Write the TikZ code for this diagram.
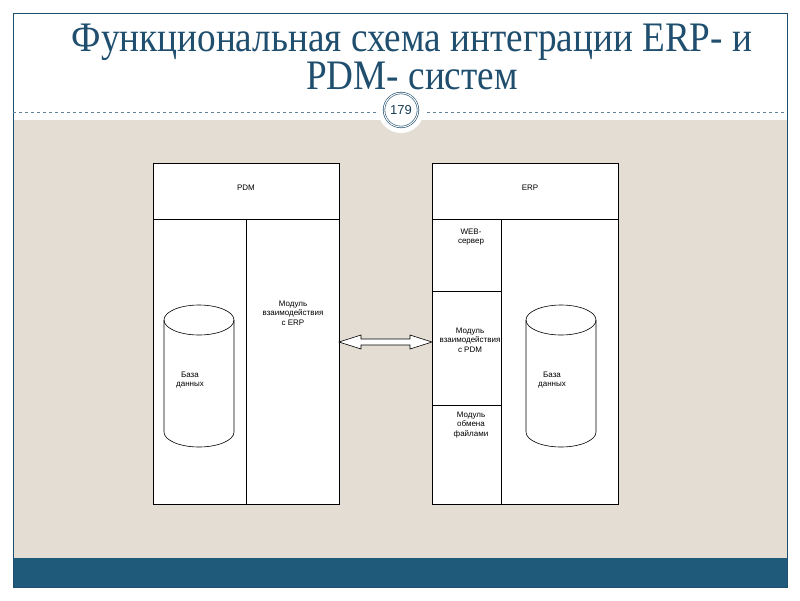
\documentclass[tikz,border=0pt]{standalone}
\usepackage{fontspec}
\setmainfont{Liberation Serif}
\newfontfamily\arialf{Liberation Sans}
\usetikzlibrary{calc}
\definecolor{navy}{HTML}{1F4E6E}
\definecolor{bar}{HTML}{1F5A7A}
\definecolor{beige}{HTML}{E3DDD3}
\tikzset{box/.style={draw=black,line width=0.6pt,fill=white},
 lbl/.style={font=\arialf\fontsize{8}{9.5}\selectfont,align=center,inner sep=0pt},
 dbline/.style={draw=black,fill=white,line width=0.6pt}}
\newcommand{\mydb}[1]{%
 \path[dbline] ($(#1)+(-35,-56)$) -- ($(#1)+(-35,56)$) arc[start angle=180,end angle=360,x radius=35,y radius=-15] -- ($(#1)+(35,-56)$) arc[start angle=0,end angle=180,x radius=35,y radius=-15] -- cycle;
 \draw[line width=0.6pt] ($(#1)+(-35,-56)$) arc[start angle=180,end angle=360,x radius=35,y radius=-15];}
\begin{document}
\begin{tikzpicture}[x=1pt,y=-1pt]
\useasboundingbox (0,0) rectangle (800,600);
\fill[white] (0,0) rectangle (800,600);
\fill[beige] (13,120) rectangle (787,558);
\fill[bar] (13,558) rectangle (787,587);
\draw[navy,line width=0.8pt] (13,13) rectangle (787,587);
\draw[navy!70,dashed,line width=0.5pt] (13,112) -- (787,112);
\node[circle,fill=white,minimum size=46pt] (cbg) at (401,110) {};
\node[circle,draw=navy,double=white,double distance=1pt,line width=0.6pt,minimum size=34pt,inner sep=0pt,font=\arialf\fontsize{13}{13}\selectfont,text=navy!80!black] (pg) at (401,110) {179};
\node[text=navy,align=center,font=\fontsize{40}{38}\selectfont] (title) at (412,57) {\scalebox{0.93}[1.05]{Функциональная схема интеграции ERP- и}\\\scalebox{0.93}[1.05]{PDM- систем}};
% PDM
\draw[box] (153,163) rectangle (339,504);
\draw[line width=0.6pt] (153,219) -- (339,219) (246,219) -- (246,504);
\node[lbl] (pdm) at (246,188) {PDM};
\coordinate (c1) at (199,376);
\mydb{c1}
\node[lbl] (dbt1) at (190,380) {База\\данных};
\node[lbl] (mod1) at (293,313) {Модуль\\взаимодействия\\с ERP};
% ERP
\draw[box] (432,163) rectangle (618,504);
\draw[line width=0.6pt] (432,219) -- (618,219) (501,219) -- (501,504) (432,291) -- (501,291) (432,405) -- (501,405);
\node[lbl] (erp) at (530,188) {ERP};
\node[lbl] (web) at (471,237) {WEB-\\сервер};
\node[lbl] (mod2) at (470,340) {Модуль\\взаимодействия\\с PDM};
\node[lbl] (mod3) at (471,425) {Модуль\\обмена\\файлами};
\coordinate (c2) at (561,376);
\mydb{c2}
\node[lbl] (dbt2) at (552,380) {База\\данных};
\coordinate (a1) at (339,342);
\coordinate (a2) at (432,342);
\draw[box] (a1) -- ++(22,-7) -- ++(0,4) -- ($(a2)+(-22,-3)$) -- ++(0,-4) -- (a2) -- ++(-22,7) -- ++(0,-4) -- ($(a1)+(22,3)$) -- ++(0,4) -- cycle;
\end{tikzpicture}
\end{document}
